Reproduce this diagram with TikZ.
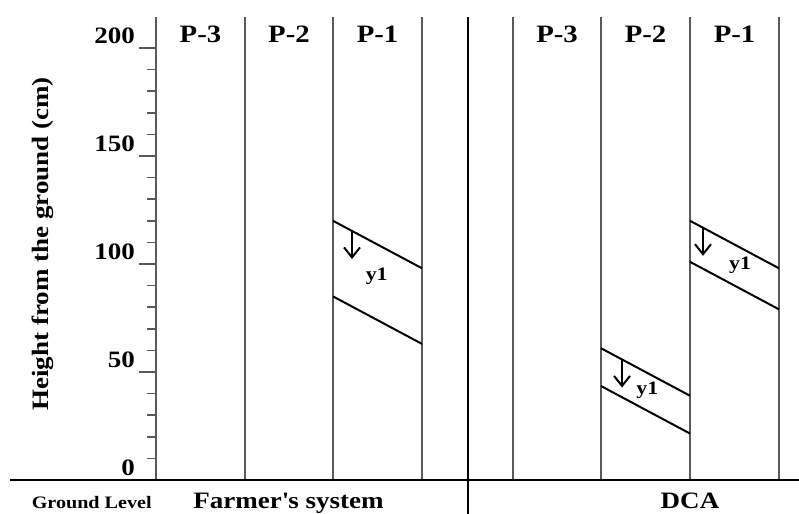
\documentclass[tikz,border=0pt]{standalone}
\usepackage{fontspec}
\setmainfont{Liberation Serif}[FakeStretch=1.15]
\usetikzlibrary{arrows.meta}
\newcommand{\soilband}[4]
{   \draw[bandline] (#1,#2) -- ++(89,-22);
    \draw[bandline] (#1,#3) -- ++(89,-22);
    \draw[bandline,-{Straight Barb[length=10pt,width=16pt]}] ({#1+#4},{#2-22*#4/89}) -- ++(0,-13);
}
\newcommand{\linecolor}{black!65}
\begin{document}
\begin{tikzpicture}[x=1pt,y=2.16pt,
  every node/.style={font=\bfseries\fontsize{23.5}{28}\selectfont,inner sep=1pt},
  head/.style={anchor=base,font=\bfseries\fontsize{25}{30}\selectfont},
  column/.style={draw=\linecolor,line width=2.2pt},
  bandline/.style={draw=black,line width=2pt},
  tick/.style={draw=\linecolor,line width=1.5pt},
  small/.style={font=\bfseries\fontsize{19}{22}\selectfont}]

 \useasboundingbox (0,-15.74) rectangle (799,222.22);
 \foreach \x in {156,245,333,422,513,601,690,779}
   \draw[column] (\x,0) -- (\x,214.3);
 \draw[black,line width=1.4pt] (468,-15.74) -- (468,214.3);
 \draw[black,line width=2.2pt] (10,0) -- (799,0);
 \foreach \h in {10,20,...,190}
   \draw[tick] (147,\h) -- (156,\h);
 \foreach \h in {50,100,...,200}
   \draw[tick] (139,\h) -- (156,\h);
 \foreach \h in {0,50,...,200}
   \draw (136,\h+2.3) node[anchor=base east] (num\h) {\h};

 \draw (200.5,202.5) node[head] (fp3) {P-3};
 \draw (289,202.5) node[head] (fp2) {P-2};
 \draw (377.5,202.5) node[head] (fp1) {P-1};
 \draw (557,202.5) node[head] (dp3) {P-3};
 \draw (645.5,202.5) node[head] (dp2) {P-2};
 \draw (734.5,202.5) node[head] (dp1) {P-1};

 \soilband{333}{120}{85}{19}
 \soilband{690}{120}{101}{13}
 \soilband{601}{61}{43.5}{21}
 \draw (376.7,94.1) node[small] (fy1) {y1};
 \draw (740,99.5) node[small] (dy1) {y1};
 \draw (647.3,41.7) node[small] (dy2) {y1};

 \draw (43,109.3) node[rotate=90] (yaxis) {Height from the ground (cm)};
 \draw (91.7,-13.2) node[anchor=base,font=\bfseries\fontsize{17.5}{20}\selectfont] (ground) {Ground Level};
 \draw (288.5,-13.2) node[anchor=base] (farmer) {Farmer\textquotesingle s system};
 \draw (690,-13.2) node[anchor=base] (dca) {DCA};

\end{tikzpicture}
\end{document}
